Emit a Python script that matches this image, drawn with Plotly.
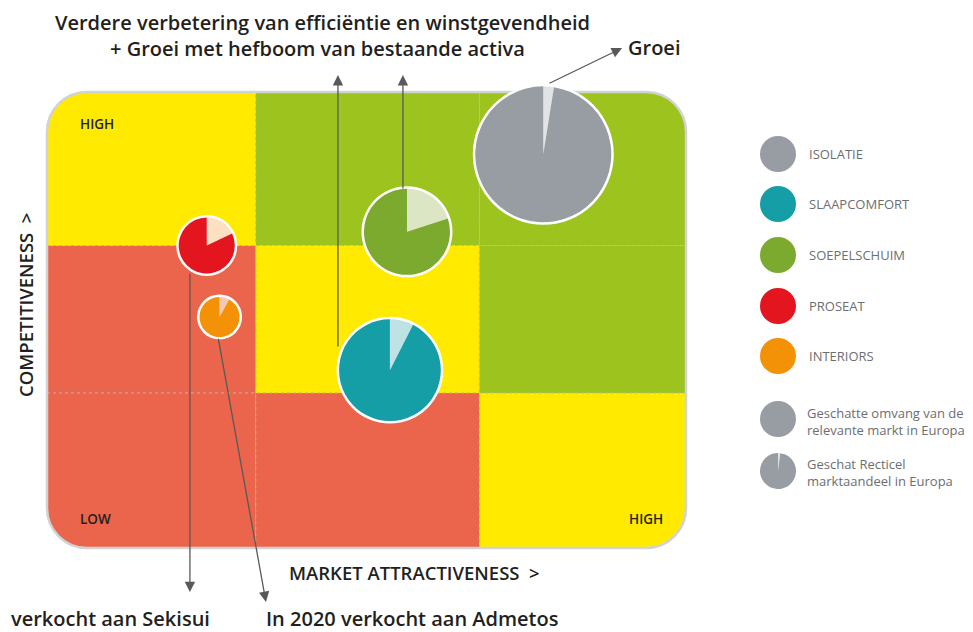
import math
import plotly.graph_objects as go

# ---- data -------------------------------------------------------------
# matrix positions in grid units (0..3 on both axes)
segments = ["ISOLATIE", "SLAAPCOMFORT", "SOEPELSCHUIM", "PROSEAT", "INTERIORS"]
market_attractiveness = [2.33, 1.61, 1.69, 0.75, 0.81]
competitiveness = [2.59, 1.17, 2.08, 1.99, 1.52]
market_size = [100, 56, 40, 17, 8.7]          # relative size of the relevant European market
recticel_share = [0.025, 0.075, 0.20, 0.18, 0.08]

seg_colors = ["#989ca3", "#159ea6", "#7baa2f", "#e3151f", "#f39207"]
share_colors = ["#e2e3e5", "#bfe2e5", "#dde6c4", "#fddfc2", "#f6c8b2"]

# 3x3 background matrix (rows from bottom to top)
x_edges = [0, 0.98, 2.03, 3]
y_edges = [0, 1.02, 1.99, 3]
cell_colors = [
    ["#ea654b", "#ea654b", "#ffea00"],
    ["#ea654b", "#ffea00", "#9dc31f"],
    ["#ffea00", "#9dc31f", "#9dc31f"],
]

legend_labels = ["ISOLATIE", "SLAAPCOMFORT", "SOEPELSCHUIM", "PROSEAT", "INTERIORS"]
legend_size_label = "Geschatte omvang van de<br>relevante markt in Europa"
legend_share_label = "Geschat Recticel<br>marktaandeel in Europa"

# arrows: (tail x, tail y, head x, head y) in grid units
arrows = [
    (1.366, 1.316, 1.366, 3.112),
    (1.671, 2.355, 1.671, 3.112),
    (2.352, 3.053, 2.700, 3.289),
    (0.671, 1.816, 0.671, -0.290),
    (0.803, 1.388, 1.028, -0.355),
]

# ---- geometry ----------------------------------------------------------
W, H = 973, 632          # page size
OFF = 8                  # page body margin
FW, FH = W - OFF, H - OFF
X0_PX, X1_PX, Y_TOP, Y_BOT = 47, 686, 92, 548
KX = (X1_PX - X0_PX) / 3.0
KY = (Y_BOT - Y_TOP) / 3.0
R_MAX = 68
CORNER = 40
FONT = "Open Sans"
DARK = "#231f20"


def px(x):
    return X0_PX + x * KX


def py(y):
    return Y_BOT - y * KY


def pie_domain(cx, cy, r):
    return dict(x=[(cx - OFF - r) / FW, (cx - OFF + r) / FW],
                y=[(H - cy - r) / FH, (H - cy + r) / FH])


def rounded_path(x0, x1, y0, y1, corners):
    rx, ry = CORNER / KX, CORNER / KY
    k = 0.5523

    def arc(p0, c, p3):
        c1 = (p0[0] + k * (c[0] - p0[0]), p0[1] + k * (c[1] - p0[1]))
        c2 = (p3[0] + k * (c[0] - p3[0]), p3[1] + k * (c[1] - p3[1]))
        return f" C {c1[0]},{c1[1]} {c2[0]},{c2[1]} {p3[0]},{p3[1]}"

    d = f"M {x0 + rx if 'bl' in corners else x0},{y0}"
    if "br" in corners:
        d += f" L {x1 - rx},{y0}" + arc((x1 - rx, y0), (x1, y0), (x1, y0 + ry))
    else:
        d += f" L {x1},{y0}"
    if "tr" in corners:
        d += f" L {x1},{y1 - ry}" + arc((x1, y1 - ry), (x1, y1), (x1 - rx, y1))
    else:
        d += f" L {x1},{y1}"
    if "tl" in corners:
        d += f" L {x0 + rx},{y1}" + arc((x0 + rx, y1), (x0, y1), (x0, y1 - ry))
    else:
        d += f" L {x0},{y1}"
    if "bl" in corners:
        d += f" L {x0},{y0 + ry}" + arc((x0, y0 + ry), (x0, y0), (x0 + rx, y0))
    return d + " Z"


fig = go.Figure()

# ---- background matrix -------------------------------------------------
shapes = []
for i in range(3):
    for j in range(3):
        corners = set()
        if i == 0 and j == 0:
            corners.add("bl")
        if i == 0 and j == 2:
            corners.add("br")
        if i == 2 and j == 0:
            corners.add("tl")
        if i == 2 and j == 2:
            corners.add("tr")
        shapes.append(dict(
            type="path", xref="x", yref="y", layer="below",
            path=rounded_path(x_edges[j], x_edges[j + 1], y_edges[i], y_edges[i + 1], corners),
            fillcolor=cell_colors[i][j], line=dict(width=0),
        ))

for xe in x_edges[1:-1]:
    shapes.append(dict(type="line", xref="x", yref="y", layer="below",
                       x0=xe, x1=xe, y0=y_edges[0], y1=y_edges[-1],
                       line=dict(color="#b4b4b4", width=1, dash="dot")))
for ye in y_edges[1:-1]:
    shapes.append(dict(type="line", xref="x", yref="y", layer="below",
                       x0=x_edges[0], x1=x_edges[-1], y0=ye, y1=ye,
                       line=dict(color="#b4b4b4", width=1, dash="dot")))

shapes.append(dict(type="path", xref="x", yref="y", layer="below",
                   path=rounded_path(0, 3, 0, 3, {"bl", "br", "tl", "tr"}),
                   fillcolor="rgba(0,0,0,0)", line=dict(color="#d1d2d4", width=2.5)))

# ---- bubbles (pies) ----------------------------------------------------
for name, mx, cy_, size, share, col, scol in zip(
        segments, market_attractiveness, competitiveness, market_size,
        recticel_share, seg_colors, share_colors):
    r = R_MAX * math.sqrt(size / 100.0)
    cx, cy = px(mx), py(cy_)
    fig.add_trace(go.Pie(
        values=[1], marker=dict(colors=["#ffffff"], line=dict(width=0)),
        domain=pie_domain(cx, cy, r + 2.5), textinfo="none",
        hoverinfo="skip", showlegend=False, sort=False,
    ))
    fig.add_trace(go.Pie(
        labels=["Recticel", "Markt"], values=[share, 1 - share], name=name,
        marker=dict(colors=[scol, col], line=dict(width=0)),
        domain=pie_domain(cx, cy, r), textinfo="none",
        direction="clockwise", rotation=0, sort=False,
        hoverinfo="label+percent+name", showlegend=False,
    ))

# ---- legend ------------------------------------------------------------
LEG_X, LEG_R = 778, 18
leg_y = [154, 204, 255, 306, 356]
annotations = []


def paper_x(x):
    return (x - OFF) / FW


def paper_y(y):
    return (H - y) / FH


for lab, col, ly in zip(legend_labels, seg_colors, leg_y):
    fig.add_trace(go.Pie(values=[1], marker=dict(colors=[col], line=dict(width=0)),
                         domain=pie_domain(LEG_X, ly, LEG_R), textinfo="none",
                         hoverinfo="skip", showlegend=False, sort=False))
    annotations.append(dict(xref="paper", yref="paper", x=paper_x(807), y=paper_y(ly),
                            text=lab, showarrow=False, xanchor="left", yanchor="middle",
                            font=dict(family=FONT, size=13, color="#6d6e71")))

fig.add_trace(go.Pie(values=[1], marker=dict(colors=["#989ca3"], line=dict(width=0)),
                     domain=pie_domain(LEG_X, 419, LEG_R), textinfo="none",
                     hoverinfo="skip", showlegend=False, sort=False))
fig.add_trace(go.Pie(values=[0.02, 0.98], marker=dict(colors=["#e2e3e5", "#989ca3"], line=dict(width=0)),
                     domain=pie_domain(LEG_X, 471, LEG_R), textinfo="none",
                     direction="clockwise", rotation=0,
                     hoverinfo="skip", showlegend=False, sort=False))
for txt, ly in [(legend_size_label, 421), (legend_share_label, 472)]:
    annotations.append(dict(xref="paper", yref="paper", x=paper_x(805), y=paper_y(ly),
                            text=txt, showarrow=False, xanchor="left", yanchor="middle",
                            align="left",
                            font=dict(family=FONT, size=13, color="#6d6e71")))

# ---- arrows ------------------------------------------------------------
for tx, ty, hx, hy in arrows:
    annotations.append(dict(x=hx, y=hy, ax=tx, ay=ty, xref="x", yref="y",
                            axref="x", ayref="y", text="", showarrow=True,
                            arrowhead=2, arrowsize=1.6, arrowwidth=1.3,
                            arrowcolor="#58595b"))


# ---- texts -------------------------------------------------------------
def label(x, y, text, size, xanchor="center", weight=600, angle=0):
    annotations.append(dict(xref="paper", yref="paper", x=paper_x(x), y=paper_y(y),
                            text=text, showarrow=False, xanchor=xanchor, yanchor="middle",
                            textangle=angle,
                            font=dict(family=FONT, size=size, color=DARK, weight=weight)))


label(322, 22, "Verdere verbetering van efficiëntie en winstgevendheid", 20)
label(317, 48, "+ Groei met hefboom van bestaande activa", 20)
label(626, 47, "Groei", 20, xanchor="left")
label(9, 618, "verkocht aan Sekisui", 20, xanchor="left")
label(264, 618, "In 2020 verkocht aan Admetos", 20, xanchor="left")
label(414, 572, "MARKET ATTRACTIVENESS &nbsp;&gt;", 18.5)
label(25, 305, "COMPETITIVENESS &nbsp;&gt;", 18.5, angle=-90)
label(78, 124, "HIGH", 13.5, xanchor="left")
label(78, 519, "LOW", 13.5, xanchor="left")
label(627, 519, "HIGH", 13.5, xanchor="left")

fig.update_layout(
    width=FW, height=FH,
    margin=dict(l=0, r=0, t=0, b=0),
    paper_bgcolor="white", plot_bgcolor="white",
    xaxis=dict(range=[(OFF - X0_PX) / KX, (W - X0_PX) / KX], visible=False, fixedrange=True),
    yaxis=dict(range=[(Y_BOT - H) / KY, (Y_BOT - OFF) / KY], visible=False, fixedrange=True),
    shapes=shapes,
    annotations=annotations,
    showlegend=False,
)

fig.write_html("out.html")
